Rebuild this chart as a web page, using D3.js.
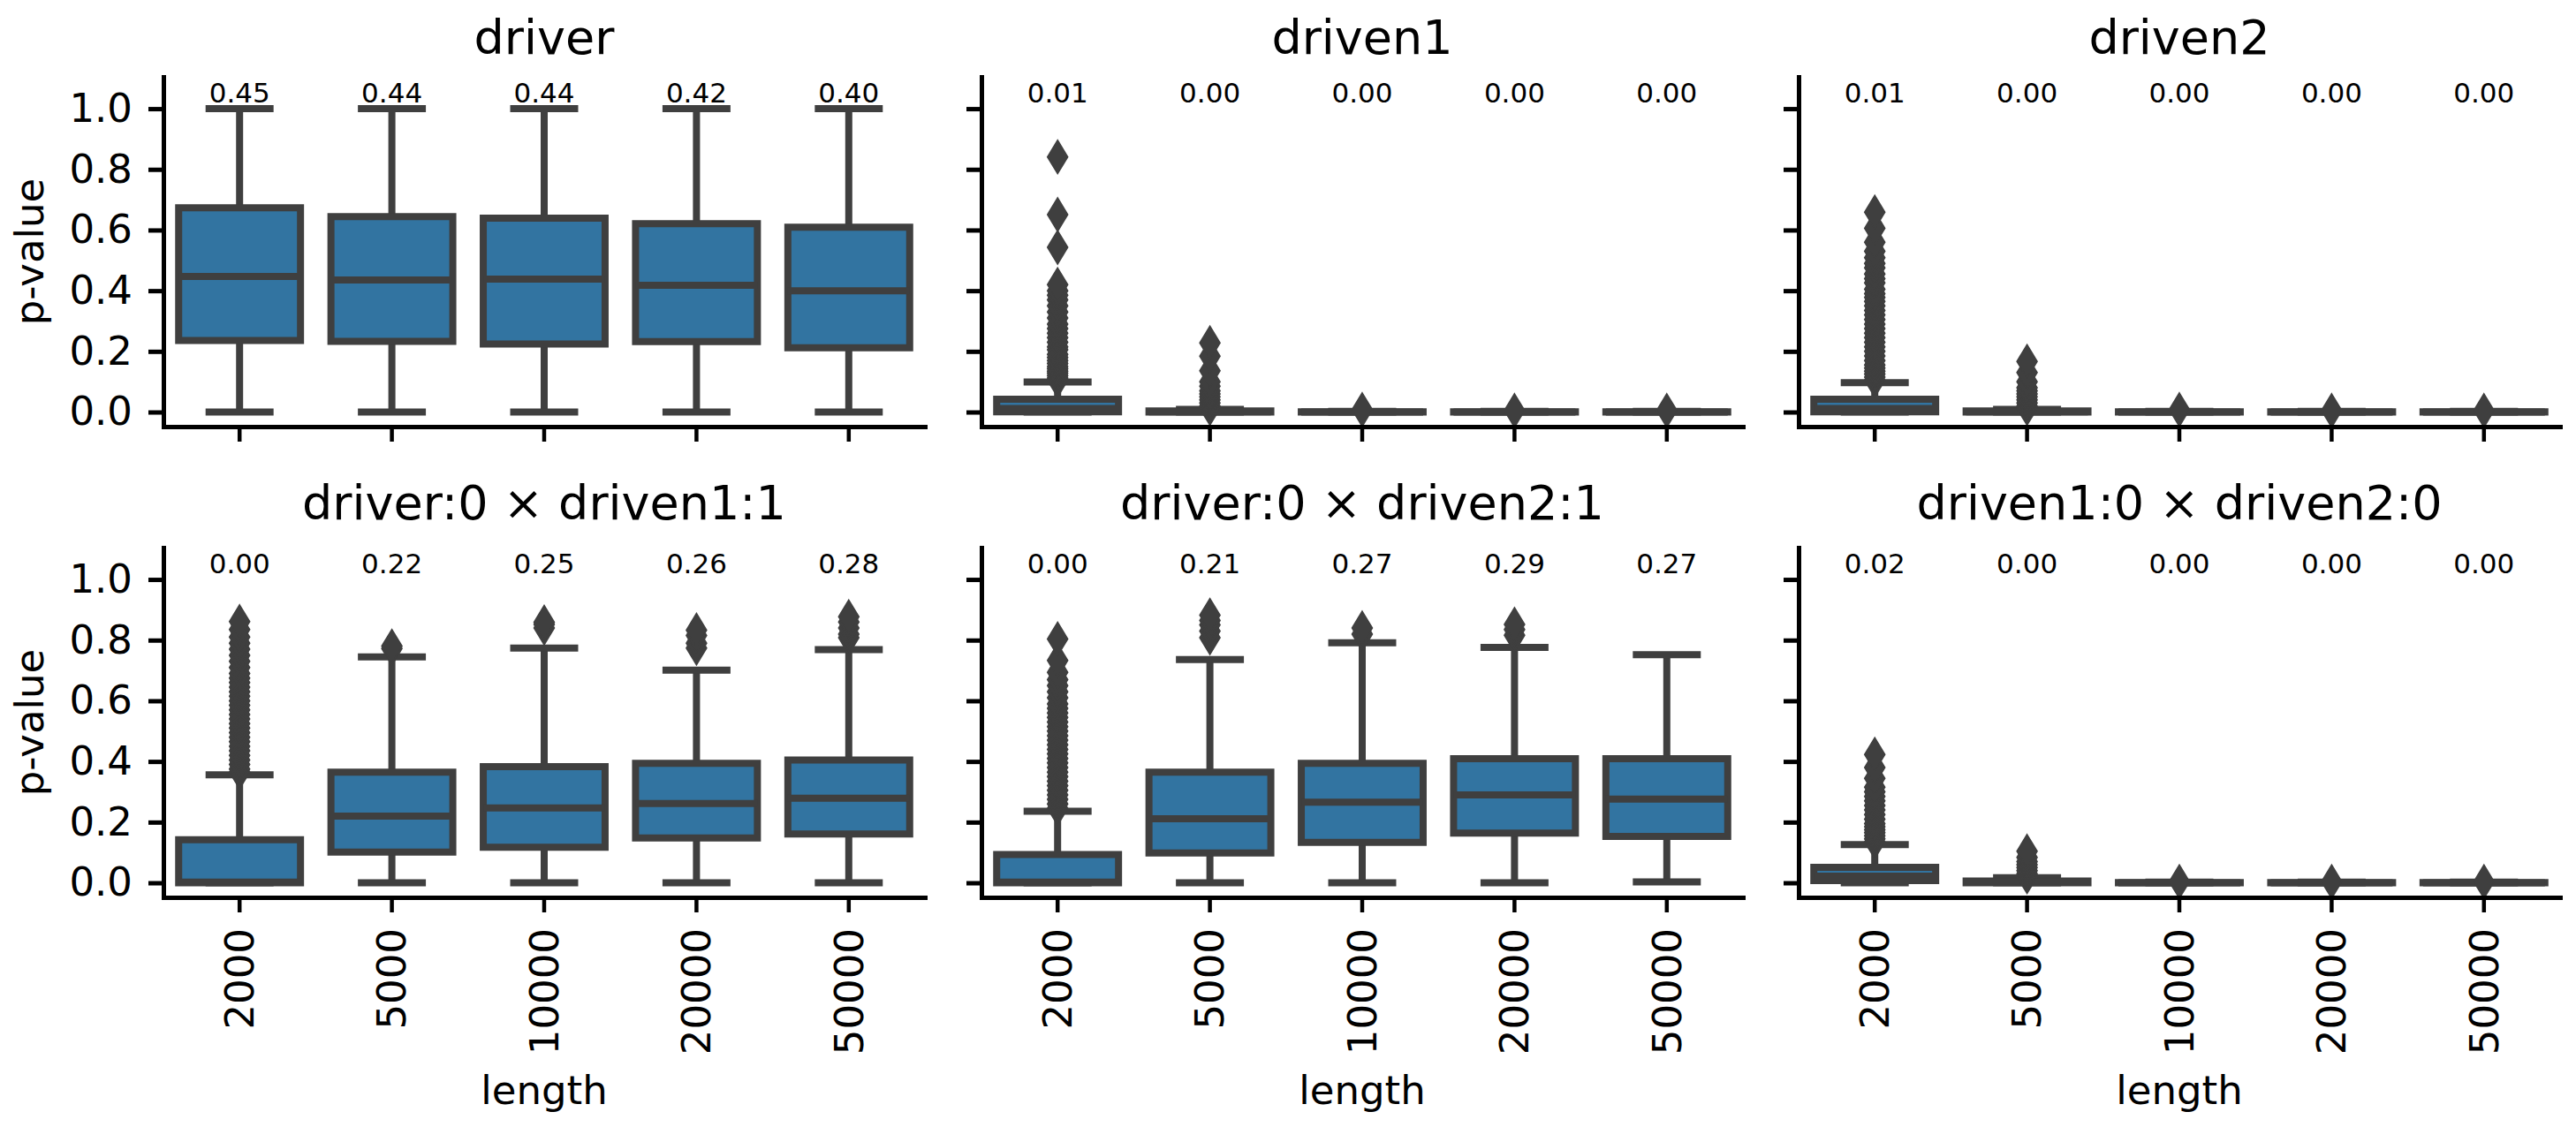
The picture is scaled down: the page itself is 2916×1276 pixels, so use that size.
<!DOCTYPE html>
<html><head><meta charset="utf-8">
<script src="https://cdn.jsdelivr.net/npm/d3@7"></script>
<style>body{margin:0;background:#fff} text{font-family:"DejaVu Sans",sans-serif;fill:#000}</style>
</head><body><svg id="chart" width="2916" height="1276"></svg>
<script>
// ---------- data ----------
const categories = ["2000", "5000", "10000", "20000", "50000"];
const panelTitles = ["driver", "driven1", "driven2", "driver:0 × driven1:1", "driver:0 × driven2:1", "driven1:0 × driven2:0"];
const yTicks = [0.0, 0.2, 0.4, 0.6, 0.8, 1.0];
const xLabel = "length";
const yLabel = "p-value";

// driver
const driverQ1 = [0.236, 0.233, 0.224, 0.232, 0.212];
const driverMedian = [0.447, 0.435, 0.438, 0.418, 0.400];
const driverQ3 = [0.673, 0.644, 0.639, 0.621, 0.609];
const driverLow = [0, 0, 0, 0, 0];
const driverHigh = [1.0, 1.0, 1.0, 1.0, 1.0];
const driverOutliers = [[], [], [], [], []];
const driverLabels = ["0.45", "0.44", "0.44", "0.42", "0.40"];

// driven1
const driven1Q1 = [0.001, 0, 0, 0, 0];
const driven1Median = [0.012, 0.001, 0, 0, 0];
const driven1Q3 = [0.042, 0.004, 0.001, 0.001, 0.001];
const driven1Low = [0, 0, 0, 0, 0];
const driven1High = [0.099, 0.009, 0.002, 0.002, 0.002];
const driven1Outliers = [
  [0.105, 0.112, 0.12, 0.128, 0.135, 0.143, 0.15, 0.16, 0.17, 0.18, 0.19, 0.205, 0.215, 0.23, 0.245, 0.26, 0.275, 0.29, 0.31, 0.33, 0.35, 0.37, 0.385, 0.40, 0.42, 0.543, 0.651, 0.841],
  [0.012, 0.02, 0.03, 0.04, 0.05, 0.06, 0.07, 0.085, 0.10, 0.136, 0.184, 0.228],
  [0.008], [0.005], [0.005]
];
const driven1Labels = ["0.01", "0.00", "0.00", "0.00", "0.00"];

// driven2
const driven2Q1 = [0.001, 0, 0, 0, 0];
const driven2Median = [0.012, 0.001, 0, 0, 0];
const driven2Q3 = [0.042, 0.004, 0.001, 0.001, 0.001];
const driven2Low = [0, 0, 0, 0, 0];
const driven2High = [0.097, 0.009, 0.002, 0.002, 0.002];
const driven2Outliers = [
  [0.105, 0.115, 0.125, 0.135, 0.145, 0.155, 0.17, 0.185, 0.2, 0.215, 0.23, 0.245, 0.26, 0.275, 0.29, 0.305, 0.32, 0.335, 0.35, 0.365, 0.378, 0.39, 0.405, 0.426, 0.44, 0.455, 0.475, 0.49, 0.509, 0.53, 0.56, 0.606, 0.659],
  [0.012, 0.02, 0.03, 0.04, 0.05, 0.06, 0.07, 0.08, 0.10, 0.13, 0.167],
  [0.008], [0.005], [0.005]
];
const driven2Labels = ["0.01", "0.00", "0.00", "0.00", "0.00"];

// driver:0 x driven1:1
const d0d1Q1 = [0, 0.101, 0.117, 0.148, 0.161];
const d0d1Median = [0.002, 0.220, 0.247, 0.261, 0.279];
const d0d1Q3 = [0.142, 0.365, 0.383, 0.394, 0.405];
const d0d1Low = [0, 0, 0, 0, 0];
const d0d1High = [0.356, 0.745, 0.774, 0.701, 0.769];
const d0d1Outliers = [
  [0.365, 0.375, 0.39, 0.405, 0.42, 0.435, 0.45, 0.465, 0.48, 0.495, 0.51, 0.525, 0.54, 0.555, 0.57, 0.585, 0.60, 0.615, 0.63, 0.645, 0.66, 0.675, 0.69, 0.71, 0.73, 0.75, 0.77, 0.79, 0.81, 0.835, 0.861],
  [0.772, 0.78],
  [0.84, 0.852, 0.859],
  [0.774, 0.79, 0.815, 0.833],
  [0.808, 0.82, 0.84, 0.86, 0.877]
];
const d0d1Labels = ["0.00", "0.22", "0.25", "0.26", "0.28"];

// driver:0 x driven2:1
const d0d2Q1 = [0, 0.098, 0.133, 0.164, 0.153];
const d0d2Median = [0.002, 0.211, 0.266, 0.290, 0.276];
const d0d2Q3 = [0.093, 0.365, 0.394, 0.409, 0.409];
const d0d2Low = [0, 0, 0, 0, 0.003];
const d0d2High = [0.236, 0.736, 0.791, 0.776, 0.752];
const d0d2Outliers = [
  [0.245, 0.26, 0.275, 0.29, 0.305, 0.32, 0.335, 0.35, 0.365, 0.38, 0.395, 0.41, 0.425, 0.44, 0.455, 0.47, 0.485, 0.50, 0.515, 0.53, 0.545, 0.56, 0.575, 0.59, 0.61, 0.63, 0.65, 0.67, 0.694, 0.733, 0.804],
  [0.808, 0.83, 0.85, 0.865, 0.882],
  [0.82, 0.84],
  [0.816, 0.835, 0.852],
  []
];
const d0d2Labels = ["0.00", "0.21", "0.27", "0.29", "0.27"];

// driven1:0 x driven2:0
const n1n2Q1 = [0.007, 0, 0, 0, 0];
const n1n2Median = [0.022, 0.002, 0, 0, 0];
const n1n2Q3 = [0.051, 0.006, 0.001, 0.001, 0.001];
const n1n2Low = [0, 0, 0, 0, 0];
const n1n2High = [0.126, 0.017, 0.002, 0.002, 0.002];
const n1n2Outliers = [
  [0.135, 0.145, 0.155, 0.165, 0.175, 0.185, 0.195, 0.21, 0.225, 0.24, 0.255, 0.27, 0.285, 0.30, 0.315, 0.344, 0.38, 0.423],
  [0.02, 0.03, 0.04, 0.05, 0.06, 0.07, 0.084, 0.104],
  [0.004], [0.004], [0.004]
];
const n1n2Labels = ["0.02", "0.00", "0.00", "0.00", "0.00"];

// ---------- assemble ----------
const panels = [
  {title: panelTitles[0], q1: driverQ1, med: driverMedian, q3: driverQ3, lo: driverLow, hi: driverHigh, out: driverOutliers, labels: driverLabels},
  {title: panelTitles[1], q1: driven1Q1, med: driven1Median, q3: driven1Q3, lo: driven1Low, hi: driven1High, out: driven1Outliers, labels: driven1Labels},
  {title: panelTitles[2], q1: driven2Q1, med: driven2Median, q3: driven2Q3, lo: driven2Low, hi: driven2High, out: driven2Outliers, labels: driven2Labels},
  {title: panelTitles[3], q1: d0d1Q1, med: d0d1Median, q3: d0d1Q3, lo: d0d1Low, hi: d0d1High, out: d0d1Outliers, labels: d0d1Labels},
  {title: panelTitles[4], q1: d0d2Q1, med: d0d2Median, q3: d0d2Q3, lo: d0d2Low, hi: d0d2High, out: d0d2Outliers, labels: d0d2Labels},
  {title: panelTitles[5], q1: n1n2Q1, med: n1n2Median, q3: n1n2Q3, lo: n1n2Low, hi: n1n2High, out: n1n2Outliers, labels: n1n2Labels}
];

// ---------- layout ----------
const svg = d3.select("#chart");
svg.append("rect").attr("width", 2916).attr("height", 1276).attr("fill", "#fff");
const colLeft = [185, 1111, 2036];
const plotW = 862;
const rowTop = [87, 620], rowBottom = [483, 1016];
const titleBase = [61, 588];
const yDomain = [-0.048, 1.105];
const boxFill = "#3274a1", gray = "#3f3f3f";
const LW = 8;
const tickFont = 45, titleFont = 54, annFont = 31;

panels.forEach((p, i) => {
  const r = Math.floor(i / 3), c = i % 3;
  const g = svg.append("g").attr("transform", `translate(${colLeft[c]},0)`);
  const x = d3.scaleBand().domain(categories).range([0, plotW]).padding(0);
  const y = d3.scaleLinear().domain(yDomain).range([rowBottom[r], rowTop[r]]);
  const bw = x.bandwidth() * 0.8;

  // boxes
  categories.forEach((cat, k) => {
    const cx = x(cat) + x.bandwidth() / 2;
    const bg = g.append("g");
    // whiskers
    bg.append("line").attr("x1", cx).attr("x2", cx).attr("y1", y(p.q1[k])).attr("y2", y(p.lo[k]))
      .attr("stroke", gray).attr("stroke-width", LW);
    bg.append("line").attr("x1", cx).attr("x2", cx).attr("y1", y(p.q3[k])).attr("y2", y(p.hi[k]))
      .attr("stroke", gray).attr("stroke-width", LW);
    // caps
    [p.lo[k], p.hi[k]].forEach(v => {
      bg.append("line").attr("x1", cx - bw / 4).attr("x2", cx + bw / 4).attr("y1", y(v)).attr("y2", y(v))
        .attr("stroke", gray).attr("stroke-width", LW).attr("stroke-linecap", "square");
    });
    // box
    const x0 = cx - bw / 2, x1 = cx + bw / 2, yT = y(p.q3[k]), yB = y(p.q1[k]);
    bg.append("path").attr("d", `M${x0},${yT}H${x1}V${yB}H${x0}Z`)
      .attr("fill", boxFill).attr("stroke", gray).attr("stroke-width", LW).attr("stroke-linejoin", "miter");
    // median
    bg.append("line").attr("x1", x0).attr("x2", x1).attr("y1", y(p.med[k])).attr("y2", y(p.med[k]))
      .attr("stroke", gray).attr("stroke-width", LW);
    // outliers
    bg.selectAll("path.flier").data(p.out[k]).join("path").attr("class", "flier")
      .attr("d", "M0,-19L11.5,0L0,19L-11.5,0Z")
      .attr("transform", d => `translate(${cx},${y(d)})`)
      .attr("fill", gray).attr("stroke", gray).attr("stroke-width", 1.5);
    // annotation
    g.append("text").attr("x", cx).attr("y", y(1.022)).attr("text-anchor", "middle")
      .style("font-size", annFont + "px").text(p.labels[k]);
  });

  // y axis
  const ya = g.append("g").call(d3.axisLeft(y).tickValues(yTicks).tickFormat(c === 0 ? d3.format(".1f") : () => "")
    .tickSize(17).tickPadding(18).tickSizeOuter(0));
  ya.select(".domain").attr("stroke", "#000").attr("stroke-width", 5).attr("stroke-linecap", "square");
  ya.selectAll(".tick line").attr("stroke", "#000").attr("stroke-width", 5);
  ya.selectAll(".tick text").style("font-size", tickFont + "px").attr("fill", "#000").style("font-family", "DejaVu Sans");

  // x axis
  const xa = g.append("g").attr("transform", `translate(0,${rowBottom[r]})`)
    .call(d3.axisBottom(x).tickSize(17).tickSizeOuter(0));
  xa.select(".domain").attr("stroke", "#000").attr("stroke-width", 5).attr("stroke-linecap", "square");
  xa.selectAll(".tick line").attr("stroke", "#000").attr("stroke-width", 4.5);
  if (r === 0) {
    xa.selectAll(".tick text").remove();
  } else {
    xa.selectAll(".tick text").attr("transform", "rotate(-90)").attr("x", -35).attr("y", 0)
      .attr("dy", "0.35em").style("text-anchor", "end").style("font-size", tickFont + "px")
      .attr("fill", "#000").style("font-family", "DejaVu Sans");
    g.append("text").attr("x", plotW / 2).attr("y", 1250).attr("text-anchor", "middle")
      .style("font-size", tickFont + "px").text(xLabel);
  }

  // y label
  if (c === 0) {
    g.append("text").attr("transform", `translate(${49 - colLeft[c]},${(rowTop[r] + rowBottom[r]) / 2}) rotate(-90)`)
      .attr("text-anchor", "middle").style("font-size", tickFont + "px").text(yLabel);
  }

  // title
  g.append("text").attr("x", plotW / 2).attr("y", titleBase[r]).attr("text-anchor", "middle")
    .style("font-size", titleFont + "px").text(p.title);
});
</script></body></html>
